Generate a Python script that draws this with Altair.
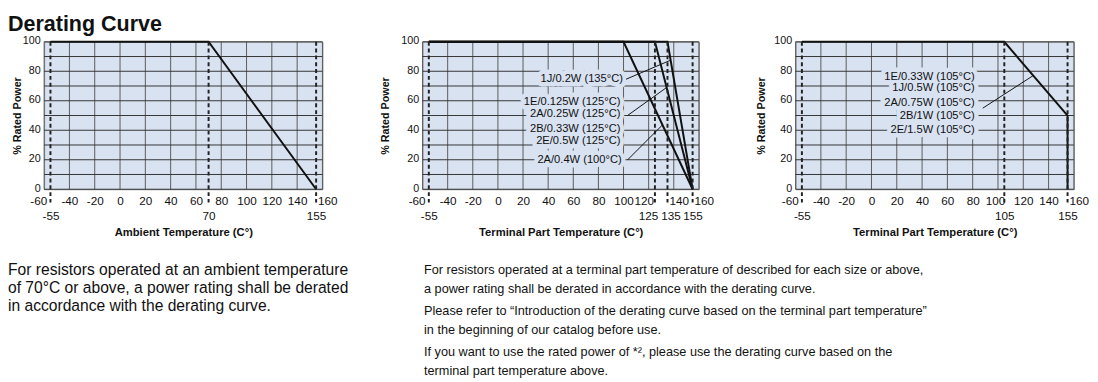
import altair as alt
import pandas as pd

TITLE = "Derating Curve"
X_TICKS = [-60, -40, -20, 0, 20, 40, 60, 80, 100, 120, 140, 160]
Y_GRID = [0, 10, 20, 30, 40, 50, 60, 70, 80, 90, 100]
Y_LABELS = [0, 20, 40, 60, 80, 100]
Y_TITLE = "% Rated Power"

# Panel 1 (ambient temperature)
P1_SERIES = ["a", "a", "a"]
P1_T = [-55, 70, 155]
P1_P = [100, 100, 0]
P1_MARKS = [-55, 70, 155]
P1_XTITLE = "Ambient Temperature (C°)"

# Panel 2 (terminal part temperature, small sizes)
P2_SERIES = ["100", "100", "100", "125", "125", "125", "135", "135", "135"]
P2_T = [-55, 100, 155, -55, 125, 155, -55, 135, 155]
P2_P = [100, 100, 0, 100, 100, 0, 100, 100, 0]
P2_MARKS = [-55, 125, 135, 155]
P2_XTITLE = "Terminal Part Temperature (C°)"
P2_LABELS = ["1J/0.2W (135°C)", "1E/0.125W (125°C)", "2A/0.25W (125°C)",
             "2B/0.33W (125°C)", "2E/0.5W (125°C)", "2A/0.4W (100°C)"]
P2_LABEL_T = [99.5, 97.5, 97.5, 97.5, 97.5, 98.5]
P2_LABEL_P = [74.4, 59, 51, 40.5, 32.7, 19.7]
P2_LEAD_T1 = [102, 103.2, 103.2]
P2_LEAD_P1 = [74.6, 50, 19.9]
P2_LEAD_T2 = [137.5, 134.3, 131]
P2_LEAD_P2 = [87.5, 69, 43.6]

# Panel 3 (terminal part temperature, larger sizes)
P3_SERIES = ["a", "a", "a", "a"]
P3_T = [-55, 105, 155, 155]
P3_P = [100, 100, 50, 0]
P3_MARKS = [-55, 105, 155]
P3_XTITLE = "Terminal Part Temperature (C°)"
P3_LABELS = ["1E/0.33W (105°C)", "1J/0.5W (105°C)", "2A/0.75W (105°C)",
             "2B/1W (105°C)", "2E/1.5W (105°C)"]
P3_LABEL_T = [81.6, 81.6, 81.6, 81.6, 81.6]
P3_LABEL_P = [76, 68.4, 58.5, 49.5, 40.2]
P3_LEAD_T1 = [88]
P3_LEAD_P1 = [55]
P3_LEAD_T2 = [127.9]
P3_LEAD_P2 = [77.1]

LEFT_PARA = [["For resistors operated at an ambient temperature",
              "of 70°C or above, a power rating shall be derated",
              "in accordance with the derating curve."]]
RIGHT_PARAS = [
    ["For resistors operated at a terminal part temperature of described for each size or above,",
     "a power rating shall be derated in accordance with the derating curve."],
    ["Please refer to \u201cIntroduction of the derating curve based on the terminal part temperature\u201d",
     "in the beginning of our catalog before use."],
    ["If you want to use the rated power of *\u00b2, please use the derating curve based on the",
     "terminal part temperature above."],
]

BG = "#d8e2f1"
FONT = "Liberation Sans"
INK = "#111111"
PLAIN = "'' + datum.value"


def offsets(pairs):
    return {"condition": [{"test": f"datum.value === {v}", "value": o} for v, o in pairs],
            "value": 0}


def panel(series, ts, ps, marks, xtitle, width, ytitle_pad, off1, off2,
          labels=None, label_t=None, label_p=None,
          lt1=None, lp1=None, lt2=None, lp2=None):
    xs = alt.Scale(domain=[-60, 160], nice=False, zero=False)
    ys = alt.Scale(domain=[0, 100], nice=False, zero=False)
    vgrid = alt.Chart(pd.DataFrame({"t": X_TICKS})).mark_rule(
        color="#5a5a5a", strokeWidth=1).encode(x=alt.X("t:Q", scale=xs, axis=None))
    hgrid = alt.Chart(pd.DataFrame({"p": Y_GRID})).mark_rule(
        color="#333333", strokeWidth=1).encode(y=alt.Y("p:Q", scale=ys, axis=None))
    curve = pd.DataFrame({"s": series, "t": ts, "p": ps, "i": list(range(len(ts)))})
    main = alt.Chart(curve).mark_line(color=INK, strokeWidth=2).encode(
        x=alt.X("t:Q", scale=xs, axis=alt.Axis(
            values=X_TICKS, orient="bottom", title=None, grid=False,
            ticks=False, domain=False, labelPadding=7, labelFontSize=12,
            labelFlush=False, labelOverlap=False, labelOffset=offsets(off1),
            labelExpr=PLAIN)),
        y=alt.Y("p:Q", scale=ys, axis=alt.Axis(
            values=Y_LABELS, orient="left", title=Y_TITLE, grid=False, ticks=False,
            domain=False, labelPadding=4, labelFontSize=11, titleFontSize=11,
            titleFontWeight="bold", titlePadding=ytitle_pad, labelFlush=False,
            labelOverlap=False, labelOffset=-1)),
        detail="s:N", order="i:Q")
    mk = pd.DataFrame({"t": marks})
    rules = alt.Chart(mk).mark_rule(color="#222222", strokeWidth=2, strokeDash=[4, 3]).encode(
        x=alt.X("t:Q", scale=xs, axis=alt.Axis(
            values=marks, orient="bottom", offset=19, title=xtitle, grid=False, ticks=False,
            domain=False, labelPadding=3, labelFontSize=12, labelFlush=False,
            labelOverlap=False, titleFontSize=11.5, titleFontWeight="bold", titlePadding=5,
            labelOffset=offsets(off2), labelExpr=PLAIN)),
        y=alt.YDatum(100, axis=None), y2=alt.datum(-9))
    layers = [vgrid, hgrid]
    if labels is not None:
        lab = pd.DataFrame({"label": labels, "t": label_t, "p": label_p})
        halo = alt.Chart(lab).mark_text(
            align="right", baseline="middle", font=FONT, fontSize=11.4, fill=BG,
            stroke=BG, strokeWidth=9, strokeJoin="round").encode(
            x=alt.X("t:Q", scale=xs, axis=None), y=alt.Y("p:Q", scale=ys, axis=None),
            text="label:N")
        layers.append(halo)
    layers += [main, rules]
    if labels is not None:
        ld = pd.DataFrame({"t1": lt1, "p1": lp1, "t2": lt2, "p2": lp2})
        leaders = alt.Chart(ld).mark_rule(color=INK, strokeWidth=1).encode(
            x=alt.X("t1:Q", scale=xs, axis=None), y=alt.Y("p1:Q", scale=ys, axis=None),
            x2="t2:Q", y2="p2:Q")
        text = alt.Chart(lab).mark_text(
            align="right", baseline="middle", font=FONT, fontSize=11.4, color=INK).encode(
            x=alt.X("t:Q", scale=xs, axis=None), y=alt.Y("p:Q", scale=ys, axis=None),
            text="label:N")
        layers += [leaders, text]
    return alt.layer(*layers).resolve_axis(x="independent", y="independent").properties(
        width=width, height=151,
        view=alt.ViewBackground(fill=BG, stroke="#8a8a8a", strokeWidth=1))


p1 = panel(P1_SERIES, P1_T, P1_P, P1_MARKS, P1_XTITLE, 285, 0,
           [(-60, -6), (160, 5)], [])
p2 = panel(P2_SERIES, P2_T, P2_P, P2_MARKS, P2_XTITLE, 283, 10,
           [(-60, -6), (120, -5), (140, 5), (160, 5)], [(125, -7), (135, 3)],
           P2_LABELS, P2_LABEL_T, P2_LABEL_P, P2_LEAD_T1, P2_LEAD_P1, P2_LEAD_T2, P2_LEAD_P2)
p3 = panel(P3_SERIES, P3_T, P3_P, P3_MARKS, P3_XTITLE, 285, 7,
           [(-60, -6), (100, -3), (160, 5)], [],
           P3_LABELS, P3_LABEL_T, P3_LABEL_P, P3_LEAD_T1, P3_LEAD_P1, P3_LEAD_T2, P3_LEAD_P2)

row1 = alt.hconcat(alt.hconcat(p1, p2, spacing=42.5), p3, spacing=41.5)

# paragraph row: column 0 = left note, column 1 = right note
xsc = alt.Scale(domain=[0, 1], range=[-37, 389], nice=False, zero=False)
ysc = alt.Scale(domain=[0, 3], reverse=True, nice=False, zero=False)
left_layer = alt.Chart(alt.Data(values=[{"c": 0, "k": i, "lines": l} for i, l in enumerate(LEFT_PARA)])).mark_text(
    align="left", baseline="top", font=FONT, fontSize=16, lineHeight=18.5, color=INK).encode(
    x=alt.X("c:Q", scale=xsc, axis=None), y=alt.Y("k:Q", scale=ysc, axis=None), text="lines:N")
right_layer = alt.Chart(alt.Data(values=[{"c": 1, "k": i, "lines": l} for i, l in enumerate(RIGHT_PARAS)])).mark_text(
    align="left", baseline="top", font=FONT, fontSize=13, lineHeight=19.5, color=INK, dy=2).encode(
    x=alt.X("c:Q", scale=xsc, axis=None), y=alt.Y("k:Q", scale=ysc, axis=None), text="lines:N")
row2 = alt.layer(left_layer, right_layer).properties(
    width=900, height=126, view=alt.ViewBackground(strokeOpacity=0))

chart = alt.vconcat(row1, row2, spacing=25).properties(
    padding=0,
    title=alt.TitleParams(TITLE, anchor="start", font=FONT, fontSize=22, fontWeight="bold",
                          color=INK, offset=-1),
).configure_axis(labelFont=FONT, titleFont=FONT, labelColor=INK, titleColor=INK)

chart.save("out.html", embed_options={"renderer": "svg", "actions": False})
